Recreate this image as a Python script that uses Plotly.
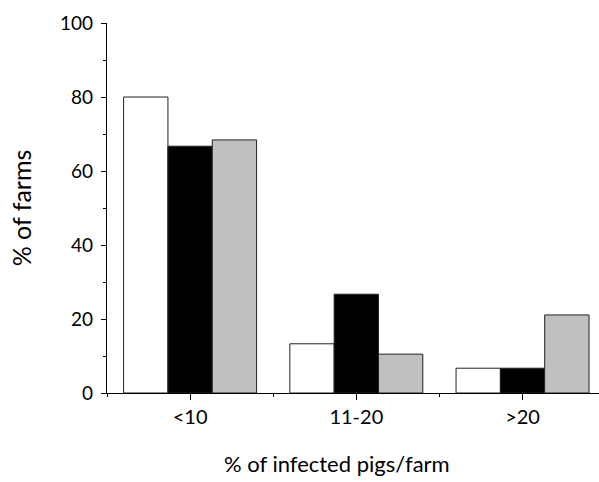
import plotly.graph_objects as go

categories = ["<10", "11-20", ">20"]
series_a = [80.0, 13.3, 6.7]
series_b = [66.7, 26.7, 6.7]
series_c = [68.4, 10.5, 21.1]
y_ticks = [0, 20, 40, 60, 80, 100]

xpos = list(range(len(categories)))
font = "Lato, Open Sans, sans-serif"

fig = go.Figure()
for vals, color in [(series_a, "white"), (series_b, "black"), (series_c, "#c0c0c0")]:
    fig.add_trace(go.Bar(x=xpos, y=vals, marker=dict(color=color, line=dict(color="#222", width=1)),
                         showlegend=False))

fig.update_layout(
    width=599, height=482,
    margin=dict(l=107, r=0, t=23, b=89),
    plot_bgcolor="white", paper_bgcolor="white",
    barmode="group", bargap=0.2, bargroupgap=0,
    font=dict(family=font, size=19, color="black"),
    annotations=[dict(text="% of infected pigs/farm", xref="paper", yref="paper",
                      x=(337 - 107) / 492, y=0, yshift=-70, xanchor="center", yanchor="middle",
                      showarrow=False, font=dict(size=22))],
)
fig.update_xaxes(
    range=[-0.5, 2.46], tickvals=xpos, ticktext=categories,
    showline=True, linecolor="black", linewidth=1.2, showgrid=False, zeroline=False,
    ticks="outside", ticklen=6, tickcolor="black", tickfont=dict(size=20),
    minor=dict(tick0=0.5, dtick=1, ticks="outside", ticklen=3, tickcolor="black", showgrid=False),
)
fig.update_yaxes(
    range=[0, 100], tickvals=y_ticks,
    showline=True, linecolor="black", linewidth=1.2, showgrid=False, zeroline=False,
    ticks="outside", ticklen=5, tickcolor="black", ticklabelstandoff=4,
    minor=dict(tick0=10, dtick=20, ticks="outside", ticklen=3, tickcolor="black", showgrid=False),
    title=dict(text="% of farms", font=dict(size=25), standoff=21),
)
fig.write_html("out.html")
